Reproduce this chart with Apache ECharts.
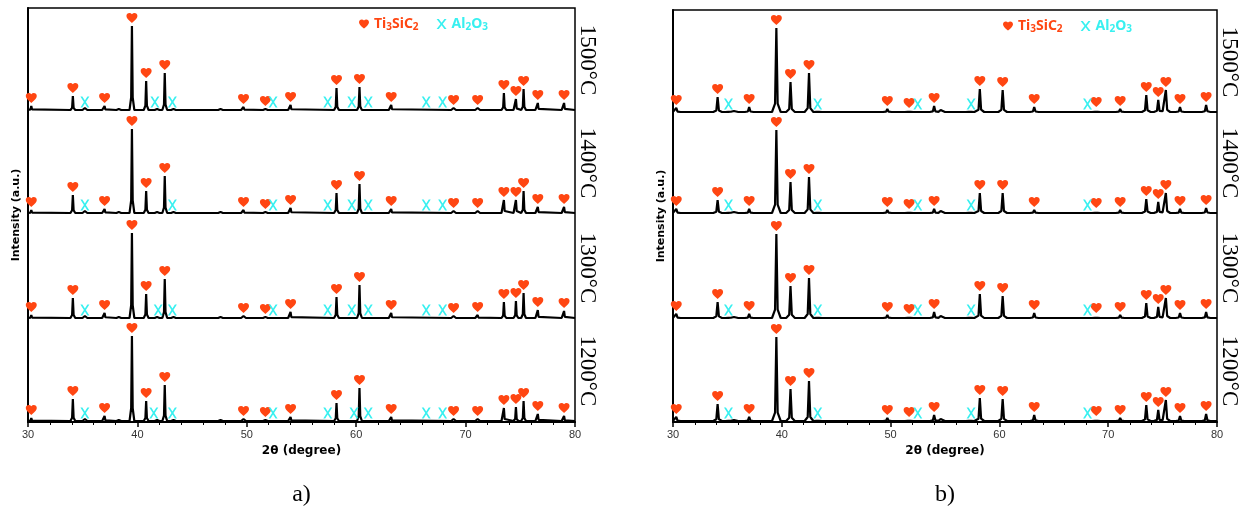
<!DOCTYPE html>
<html><head><meta charset="utf-8">
<script src="https://cdn.jsdelivr.net/npm/echarts@6/dist/echarts.min.js"></script>
<style>html,body{margin:0;padding:0;background:#fff}#c{width:1242px;height:515px}</style>
</head><body><div id="c"></div>
<script>
// ---------- data ----------
const TEMPS = ['1500°C', '1400°C', '1300°C', '1200°C'];
const X_TICKS = [30, 40, 50, 60, 70, 80];
// Ti3SiC2 reflection positions (2θ, degree)
const TI_POS = [30.3, 34.1, 37.0, 39.5, 40.8, 42.5, 49.7, 51.7, 54.0, 58.2, 60.3, 63.2, 68.9, 71.1, 73.5, 74.6, 75.3, 76.6, 79.0];
// Panel a) peak intensities (a.u.) per temperature
const A_TI_1500 = [4, 14, 4, 84, 29, 37, 3, 1, 5, 22, 23, 5, 2, 2, 17, 11, 21, 7, 7];
const A_TI_1400 = [3, 18, 4, 84, 22, 37, 3, 1, 5, 20, 29, 4, 2, 2, 13, 13, 22, 6, 6];
const A_TI_1300 = [3, 20, 5, 85, 24, 39, 2, 1, 6, 21, 33, 5, 2, 3, 16, 17, 25, 8, 7];
const A_TI_1200 = [3, 22, 5, 85, 20, 36, 2, 1, 4, 18, 33, 4, 2, 2, 13, 14, 20, 7, 5];
// Panel b) peak intensities
const B_TI_1500 = [4, 15, 5, 84, 30, 39, 3, 1, 6, 23, 22, 5, 2, 3, 17, 12, 22, 5, 7];
const B_TI_1400 = [4, 13, 4, 83, 31, 36, 3, 1, 4, 20, 20, 3, 2, 3, 14, 11, 20, 4, 5];
const B_TI_1300 = [4, 16, 4, 84, 32, 40, 3, 1, 6, 24, 22, 5, 2, 3, 15, 11, 20, 5, 6];
const B_TI_1200 = [4, 17, 4, 84, 32, 40, 3, 1, 6, 23, 22, 6, 2, 3, 16, 11, 21, 5, 7];
// Al2O3 marked positions
const A_AL_1500 = [35.2, 41.6, 43.2, 52.4, 57.4, 59.6, 61.1, 66.4, 67.9];
const A_AL_1400 = [35.2, 43.2, 52.4, 57.4, 59.6, 61.1, 66.4, 67.9];
const A_AL_1300 = [35.2, 41.9, 43.2, 52.4, 57.4, 59.6, 61.1, 66.4, 67.9];
const A_AL_1200 = [35.2, 41.5, 43.2, 52.4, 57.4, 59.8, 61.1, 66.4, 67.9];
const B_AL = [35.1, 43.3, 52.5, 57.4, 68.1];
// small unlabeled reflections [2θ, intensity]
const A_MINOR = [[35.2, 2], [38.3, 1], [41.8, 1], [43.3, 1], [47.6, 1]];
const B_MINOR = [[35.2, 2], [35.6, 1], [43.3, 1], [54.6, 2], [57.3, 1]];
// vertical stacking offsets (a.u.)
const A_OFFSETS = [312, 209, 104, 1];
const B_OFFSETS = [310, 209, 104, 1];
const A_YMAX = 414, B_YMAX = 412;

// ---------- style ----------
const HEART = 'path://M12 21.35l-1.45-1.32C5.4 15.36 2 12.28 2 8.5 2 5.42 4.42 3 7.5 3c1.74 0 3.41.81 4.5 2.09C13.09 3.81 14.76 3 16.5 3 19.58 3 22 5.42 22 8.5c0 3.78-3.4 6.86-8.55 11.54L12 21.35z';
const XMARK = 'path://M0,0 L2.2,0 L5,3.7 L7.8,0 L10,0 L6.1,5 L10,10 L7.8,10 L5,6.3 L2.2,10 L0,10 L3.9,5 Z';
const ORANGE = '#FF4612';
const CYAN = '#38F0F0';

function profile(peaks, off, inner, k, outer) {
  const xs = new Set([30, 80]);
  peaks.forEach(([p]) => { [p - outer, p - inner, p, p + inner, p + outer].forEach(v => { if (v >= 30 && v <= 80) xs.add(+v.toFixed(4)); }); });
  const arr = [...xs].sort((a, b) => a - b);
  return arr.map(x => {
    let y = 0;
    peaks.forEach(([p, h]) => {
      const d = Math.abs(x - p);
      if (d <= inner) y += h - (h - h * k) * d / inner;
      else if (d < outer) y += h * k * (outer - d) / (outer - inner);
    });
    return [x, off + y];
  });
}

const panels = [
  { ti: [A_TI_1500, A_TI_1400, A_TI_1300, A_TI_1200], al: [A_AL_1500, A_AL_1400, A_AL_1300, A_AL_1200], minor: A_MINOR, off: A_OFFSETS, shape: [0.07, 0.15, 0.22] },
  { ti: [B_TI_1500, B_TI_1400, B_TI_1300, B_TI_1200], al: [B_AL, B_AL, B_AL, B_AL], minor: B_MINOR, off: B_OFFSETS, shape: [0.12, 0.1, 0.4] }
];

const series = [];
panels.forEach((pn, g) => {
  pn.ti.forEach((hs, i) => {
    const off = pn.off[i];
    const peaks = TI_POS.map((p, j) => [p, hs[j]]).concat(pn.minor);
    series.push({
      type: 'line', xAxisIndex: g, yAxisIndex: g, showSymbol: false, silent: true, z: 2,
      data: profile(peaks, off, pn.shape[0], pn.shape[1], pn.shape[2]),
      lineStyle: { color: '#000', width: 2.2 }
    });
    series.push({
      name: 'Ti3SiC2', type: 'scatter', xAxisIndex: g, yAxisIndex: g, z: 3,
      symbol: HEART, symbolSize: [11, 10], symbolOffset: [0, -8],
      itemStyle: { color: ORANGE, opacity: 1 },
      data: TI_POS.map((p, j) => [p, off + hs[j]])
    });
    series.push({
      name: 'Al2O3', type: 'scatter', xAxisIndex: g, yAxisIndex: g, z: 3,
      symbol: XMARK, symbolSize: [9, 11],
      itemStyle: { color: CYAN, opacity: 1 },
      data: pn.al[i].map(p => [p, off + 8])
    });
  });
});

const richLegend = {
  t: { fontSize: 14, fontWeight: 'bold', color: ORANGE, fontFamily: 'Noto Sans' },
  ts: { fontSize: 10, fontWeight: 'bold', color: ORANGE, fontFamily: 'Noto Sans', padding: [7, 0, 0, 0] },
  c: { fontSize: 14, fontWeight: 'bold', color: CYAN, fontFamily: 'Noto Sans' },
  cs: { fontSize: 10, fontWeight: 'bold', color: CYAN, fontFamily: 'Noto Sans', padding: [7, 0, 0, 0] }
};
const legendFmt = n => n === 'Ti3SiC2' ? '{t|Ti}{ts|3}{t|SiC}{ts|2}' : '{c|Al}{cs|2}{c|O}{cs|3}';
function legend(left, top) {
  return {
    left, top, itemWidth: 10, itemHeight: 10, itemGap: 18, itemTextGap: 2,
    data: [{ name: 'Ti3SiC2', icon: HEART }, { name: 'Al2O3', icon: XMARK }],
    formatter: legendFmt, textStyle: { rich: richLegend }, selectedMode: false
  };
}

function xAxis(g) {
  return {
    type: 'value', gridIndex: g, min: 30, max: 80, interval: 10,
    name: '2θ (degree)', nameLocation: 'middle', nameGap: 21,
    nameTextStyle: { fontFamily: 'DejaVu Sans', fontWeight: 'bold', fontSize: 12, color: '#000' },
    axisLine: { lineStyle: { color: '#000', width: 2 } },
    axisTick: { show: true, length: 5, lineStyle: { color: '#000', width: 1.5 } },
    minorTick: { show: true, splitNumber: 5, length: 3, lineStyle: { color: '#000', width: 1 } },
    splitLine: { show: false },
    axisLabel: { color: '#333', fontSize: 11, fontFamily: 'Liberation Sans', margin: 7,
      formatter: v => X_TICKS.includes(v) ? String(v) : '' }
  };
}
function yAxis(g, max) {
  return {
    type: 'value', gridIndex: g, min: 0, max,
    name: 'Intensity (a.u.)', nameLocation: 'middle', nameGap: 6,
    nameTextStyle: { fontFamily: 'DejaVu Sans', fontWeight: 'bold', fontSize: 11, color: '#000' },
    axisLine: { show: true, lineStyle: { color: '#000', width: 2 } },
    axisTick: { show: false }, axisLabel: { show: false }, splitLine: { show: false }
  };
}

const chart = echarts.init(document.getElementById('c'), null, { renderer: 'canvas' });
chart.setOption({
  animation: false,
  backgroundColor: '#fff',
  grid: [
    { left: 28, right: 667, top: 8, bottom: 93, show: true, borderColor: '#000', borderWidth: 1.5 },
    { left: 673, right: 25, top: 10, bottom: 93, show: true, borderColor: '#000', borderWidth: 1.5 }
  ],
  legend: [legend(354, 12), legend(998, 14)],
  xAxis: [xAxis(0), xAxis(1)],
  yAxis: [yAxis(0, A_YMAX), yAxis(1, B_YMAX)],
  series
});

// temperature labels and panel captions
const graphics = [];
panels.forEach((pn, g) => {
  TEMPS.forEach((t, i) => {
    const [px, py] = chart.convertToPixel({ gridIndex: g }, [80, pn.off[i] + 50]);
    graphics.push({
      type: 'text', x: px + 12, y: py, rotation: -Math.PI / 2,
      style: { text: t, font: '23px "Liberation Serif"', fill: '#000', textAlign: 'center', textVerticalAlign: 'middle', align: 'center', verticalAlign: 'middle' }
    });
  });
  const [x0] = chart.convertToPixel({ gridIndex: g }, [30, 0]);
  const [x1, yb] = chart.convertToPixel({ gridIndex: g }, [80, 0]);
  graphics.push({
    type: 'text', x: (x0 + x1) / 2, y: yb + 73,
    style: { text: g === 0 ? 'a)' : 'b)', font: '24px "Liberation Serif"', fill: '#000', textAlign: 'center', textVerticalAlign: 'middle', align: 'center', verticalAlign: 'middle' }
  });
});
chart.setOption({ graphic: graphics });
</script>
</body></html>
